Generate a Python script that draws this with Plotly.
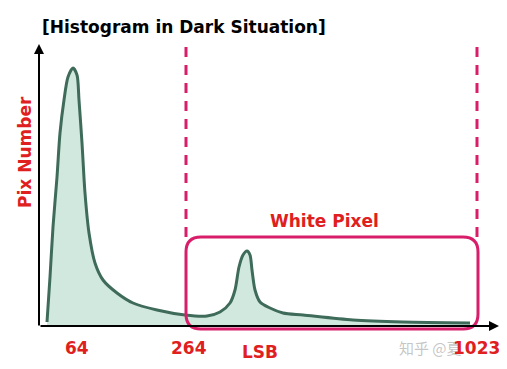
import plotly.graph_objects as go

# Schematic histogram (x: position along LSB axis in drawing units, y: pix count units)
curve_x = [7, 10, 13, 17, 20, 24, 28, 33, 37, 39, 42, 45, 49, 55, 63, 77, 93, 117, 145, 167,
           180, 190, 195, 199, 203, 207, 210, 212, 215, 220, 230, 243, 263, 313, 363, 430]
curve_y = [4, 49, 99, 149, 193, 226, 249, 258, 251, 226, 183, 133, 93, 63, 46, 33, 23, 16, 11, 10,
           14, 23, 36, 59, 71, 75, 71, 56, 36, 24, 18, 13, 11, 6, 4, 3]

tick_labels = ["64", "264", "1023"]
tick_pos = [37, 149, 436]
threshold_pos = [146, 437]          # dashed lines at 264 and 1023
box_x = [146, 438]
box_y = [-3, 89]

RED = "#e0201e"
MAG = "#d81e6a"
GREEN = "#3f6b5a"
FILL = "rgba(198,226,214,0.8)"
FONT = "DejaVu Sans"

fig = go.Figure()
fig.add_trace(go.Scatter(
    x=curve_x, y=curve_y, mode="lines",
    line=dict(color=GREEN, width=3, shape="spline", smoothing=0.8),
    fill="tozeroy", fillcolor=FILL, hoverinfo="skip", showlegend=False))

shapes = []
for xp in threshold_pos:
    shapes.append(dict(type="line", xref="x", yref="y", x0=xp, x1=xp, y0=89, y1=283,
                       line=dict(color=MAG, width=3, dash="10px,8px")))
r = 15
x0, x1 = box_x
y0, y1 = box_y
path = (f"M {x0+r},{y1} L {x1-r},{y1} Q {x1},{y1} {x1},{y1-r} L {x1},{y0+r} "
        f"Q {x1},{y0} {x1-r},{y0} L {x0+r},{y0} Q {x0},{y0} {x0},{y0+r} "
        f"L {x0},{y1-r} Q {x0},{y1} {x0+r},{y1} Z")
shapes.append(dict(type="path", xref="x", yref="y", path=path,
                   line=dict(color=MAG, width=3), fillcolor="rgba(0,0,0,0)"))

annotations = [
    # axes with arrowheads
    dict(x=459, y=0, ax=-1, ay=0, xref="x", yref="y", axref="x", ayref="y",
         showarrow=True, arrowhead=2, arrowsize=1, arrowwidth=2, arrowcolor="black", text=""),
    dict(x=-1, y=282, ax=-1, ay=-1, xref="x", yref="y", axref="x", ayref="y",
         showarrow=True, arrowhead=2, arrowsize=1, arrowwidth=2, arrowcolor="black", text=""),
    dict(x=0, y=299, xref="x", yref="y", xanchor="left", yanchor="middle", showarrow=False,
         text="<b>[Histogram in Dark Situation]</b>", font=dict(family=FONT, size=17, color="black")),
    dict(x=284, y=105, xref="x", yref="y", showarrow=False,
         text="<b>White Pixel</b>", font=dict(family=FONT, size=17, color=RED)),
    dict(x=-15, y=174, xref="x", yref="y", showarrow=False, textangle=-90,
         text="<b>Pix Number</b>", font=dict(family=FONT, size=17, color=RED)),
    dict(x=357, y=-21, xref="x", yref="y", showarrow=False, xanchor="left",
         text="知乎 @夏", font=dict(family="Noto Sans CJK SC", size=15, color="rgba(160,160,160,0.6)")),
    dict(x=220, y=-26, xref="x", yref="y", showarrow=False,
         text="<b>LSB</b>", font=dict(family=FONT, size=17, color=RED)),
]
for lab, xp in zip(tick_labels, tick_pos):
    annotations.append(dict(x=xp, y=-22, xref="x", yref="y", showarrow=False,
                            text=f"<b>{lab}</b>", font=dict(family=FONT, size=17, color=RED)))

# the page body has an 8px margin, so the figure is shrunk and the ranges shifted
fig.update_layout(
    width=499, height=361, margin=dict(l=0, r=0, t=0, b=0),
    paper_bgcolor="white", plot_bgcolor="white",
    xaxis=dict(range=[-32, 467], visible=False, fixedrange=True),
    yaxis=dict(range=[-43, 318], visible=False, fixedrange=True),
    shapes=shapes, annotations=annotations, showlegend=False)

fig.write_html("out.html")
